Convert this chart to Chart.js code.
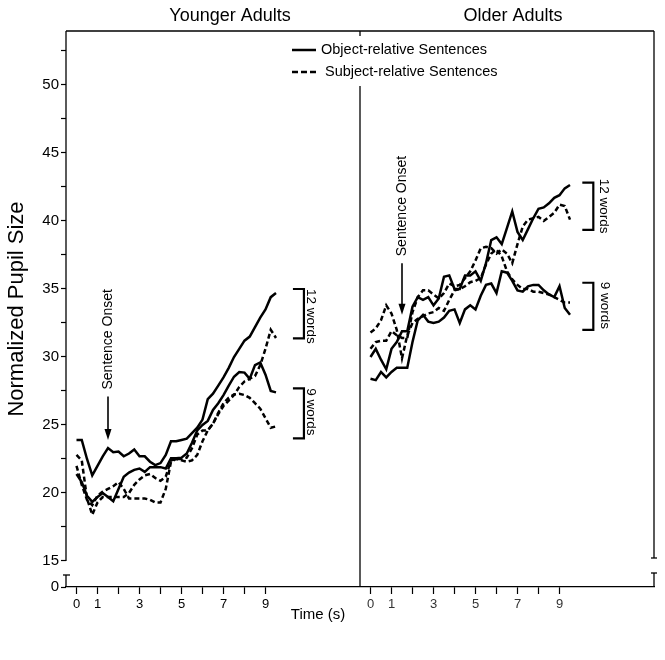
<!DOCTYPE html>
<html><head><meta charset="utf-8">
<script src="https://cdn.jsdelivr.net/npm/chart.js@4.4.1/dist/chart.umd.min.js"></script>
<style>html,body{margin:0;padding:0;background:#fff}canvas{display:block}</style>
</head><body>
<canvas id="c" width="665" height="660"></canvas>
<script>
// ---- data ----
const times = [0,0.25,0.5,0.75,1,1.25,1.5,1.75,2,2.25,2.5,2.75,3,3.25,3.5,3.75,4,4.25,4.5,4.75,5,5.25,5.5,5.75,6,6.25,6.5,6.75,7,7.25,7.5,7.75,8,8.25,8.5,8.75,9,9.25,9.5];

const youngObj12  = [23.9,23.9,22.5,21.3,22.0,22.7,23.3,23.0,23.05,22.7,22.9,23.2,22.7,22.7,22.3,22.05,22.2,22.8,23.8,23.8,23.9,24.0,24.4,24.8,25.4,26.9,27.3,27.9,28.5,29.2,30.0,30.6,31.2,31.5,32.2,32.9,33.5,34.4,34.7];
const youngSubj12 = [22.8,22.4,19.6,18.4,19.3,19.7,19.7,19.7,19.7,19.7,20.0,20.6,21.0,21.3,21.4,21.1,20.9,21.2,22.4,22.5,22.5,22.6,23.3,24.3,24.6,24.6,25.1,25.8,26.4,26.8,27.2,27.8,28.2,28.4,28.6,29.4,30.6,32.0,31.4];
const youngObj9   = [21.4,20.8,19.8,19.35,19.7,20.0,19.7,19.4,20.3,21.2,21.5,21.7,21.8,21.55,21.9,21.9,21.9,21.8,22.55,22.55,22.6,22.9,23.7,24.6,25.0,25.3,26.1,26.6,27.2,27.9,28.55,28.9,28.85,28.4,29.4,29.6,28.7,27.5,27.4];
const youngSubj9  = [22.0,20.6,19.5,19.1,19.8,20.1,20.3,20.5,20.8,20.3,19.6,19.6,19.6,19.6,19.5,19.3,19.3,20.3,22.3,22.5,22.4,22.3,22.4,22.8,23.8,24.6,25.1,25.9,26.6,27.0,27.25,27.3,27.2,27.0,26.6,26.2,25.5,24.8,24.9];

const oldObj12  = [30.0,30.6,29.8,29.1,30.6,31.1,31.9,31.9,33.7,34.4,34.2,34.4,33.8,34.3,35.9,36.0,35.0,35.0,36.0,36.0,36.3,35.6,36.9,38.6,38.8,38.3,39.5,40.7,39.2,38.6,39.4,40.2,40.9,41.0,41.3,41.7,41.9,42.4,42.65];
const oldSubj12 = [30.6,31.1,31.2,31.2,31.9,31.6,31.4,31.4,33.3,34.4,34.9,34.9,34.6,34.3,34.7,35.4,35.2,35.3,35.8,36.3,37.1,38.0,38.1,38.0,37.6,37.9,37.6,36.9,38.3,39.6,40.1,40.2,40.3,40.0,40.3,40.6,41.2,41.1,40.1];
const oldObj9   = [28.4,28.3,28.9,28.5,28.9,29.2,29.2,29.2,31.1,32.7,33.1,32.6,32.5,32.6,32.9,33.4,33.5,32.5,33.5,33.8,33.5,34.5,35.3,35.4,34.7,36.3,36.2,35.6,34.9,34.8,35.2,35.3,35.3,34.9,34.6,34.4,35.2,33.6,33.1];
const oldSubj9  = [31.8,32.1,32.7,33.8,33.2,32.0,29.9,31.6,32.5,32.8,33.0,33.2,33.3,33.6,33.4,34.2,34.9,35.0,35.2,35.5,35.6,35.8,36.8,37.6,37.9,37.4,36.3,35.7,35.3,35.0,35.0,34.8,34.8,34.7,34.6,34.4,34.2,34.0,34.0];

// tick labels
const panelTimeTicks  = [0,1,2,3,4,5,6,7,8,9];
const panelTimeLabels = ['0','1','','3','','5','','7','','9'];
const yTickValues = [15,17.5,20,22.5,25,27.5,30,32.5,35,37.5,40,42.5,45,47.5,50,52.5];
const yTickLabels = ['15','','20','','25','','30','','35','','40','','45','','50',''];
const yBreakLabel = '0';

// ---- layout constants ----
const FONT = "'Liberation Sans', Arial, Helvetica, sans-serif";
const PANEL_OFFSET = 14;          // right panel shifted along the shared time scale
const X_MIN = -0.5, X_MAX = 27.5;
const Y_MIN = 13.088, Y_MAX = 53.97;

const xTicks = panelTimeTicks.concat(panelTimeTicks.map(v => v + PANEL_OFFSET));
const xLabels = panelTimeLabels.concat(panelTimeLabels);
const yTicks = [Y_MIN].concat(yTickValues);
const yLabels = [yBreakLabel].concat(yTickLabels);

function pts(vals, off) { return times.map((t, i) => ({ x: t + off, y: vals[i] })); }
const seriesDefs = [
  { label: 'Younger 12 words object', vals: youngObj12, off: 0, dashed: false },
  { label: 'Younger 12 words subject', vals: youngSubj12, off: 0, dashed: true },
  { label: 'Younger 9 words object', vals: youngObj9, off: 0, dashed: false },
  { label: 'Younger 9 words subject', vals: youngSubj9, off: 0, dashed: true },
  { label: 'Older 12 words object', vals: oldObj12, off: PANEL_OFFSET, dashed: false },
  { label: 'Older 12 words subject', vals: oldSubj12, off: PANEL_OFFSET, dashed: true },
  { label: 'Older 9 words object', vals: oldObj9, off: PANEL_OFFSET, dashed: false },
  { label: 'Older 9 words subject', vals: oldSubj9, off: PANEL_OFFSET, dashed: true }
];
const datasets = seriesDefs.map(s => ({
  label: s.label,
  data: pts(s.vals, s.off),
  borderColor: '#000',
  borderWidth: 2.5,
  borderDash: s.dashed ? [5, 3] : [],
  pointRadius: 0,
  fill: false,
  tension: 0
}));

const decor = {
  id: 'decor',
  afterDraw(chart) {
    const { ctx, chartArea: a, scales: { x, y } } = chart;
    const line = (x1, y1, x2, y2) => { ctx.beginPath(); ctx.moveTo(x1, y1); ctx.lineTo(x2, y2); ctx.stroke(); };
    ctx.save();
    ctx.strokeStyle = '#000'; ctx.fillStyle = '#000';
    ctx.lineWidth = 1.3;
    const y15 = y.getPixelForValue(15);
    // frame
    line(a.left, a.top, a.right, a.top);
    line(a.left, a.top, a.left, y15);
    line(a.left, y15 + 14, a.left, a.bottom);
    line(a.left - 3, y15 + 14, a.left + 4, y15 + 14);
    line(a.right, a.top, a.right, y15 - 3);
    line(a.right - 3, y15 - 3, a.right + 3, y15 - 3);
    line(a.right - 3, y15 + 12, a.right + 3, y15 + 12);
    line(a.right, y15 + 12, a.right, a.bottom);
    // panel divider (interrupted by legend)
    const xd = x.getPixelForValue(PANEL_OFFSET - 0.5);
    line(xd, a.top, xd, 36);
    line(xd, 86, xd, a.bottom);

    // legend
    ctx.lineWidth = 2.5;
    line(292, 50, 316, 50);
    ctx.setLineDash([6, 3]);
    line(292, 72, 316, 72);
    ctx.setLineDash([]);
    ctx.font = '14.5px ' + FONT;
    ctx.textAlign = 'left'; ctx.textBaseline = 'middle';
    ctx.fillText('Object-relative Sentences', 321, 50);
    ctx.fillText('Subject-relative Sentences', 325, 72);

    // panel titles and x title
    ctx.font = '18px ' + FONT;
    ctx.textAlign = 'center';
    ctx.fillText('Younger Adults', 230, 16);
    ctx.fillText('Older Adults', 513, 16);
    ctx.font = '15px ' + FONT;
    ctx.fillText('Time (s)', 318, 615);

    // sentence onset arrows
    function onset(t, vTop, vTip, textCenterV) {
      const px = x.getPixelForValue(t);
      const top = y.getPixelForValue(vTop), tip = y.getPixelForValue(vTip);
      ctx.lineWidth = 1.6;
      line(px, top, px, tip - 8);
      ctx.beginPath(); ctx.moveTo(px, tip); ctx.lineTo(px - 3.5, tip - 11); ctx.lineTo(px + 3.5, tip - 11); ctx.closePath(); ctx.fill();
      ctx.save();
      ctx.translate(px, y.getPixelForValue(textCenterV));
      ctx.rotate(-Math.PI / 2);
      ctx.font = '14px ' + FONT; ctx.textAlign = 'center'; ctx.textBaseline = 'middle';
      ctx.fillText('Sentence Onset', 0, 0);
      ctx.restore();
    }
    onset(1.5, 27.1, 23.9, 31.3);
    onset(PANEL_OFFSET + 1.5, 36.9, 33.1, 41.1);

    // word-count brackets
    function bracket(t, v1, v2, label, dx, dy) {
      const px = x.getPixelForValue(t);
      const p1 = y.getPixelForValue(v1), p2 = y.getPixelForValue(v2);
      ctx.lineWidth = 2.2;
      ctx.beginPath(); ctx.moveTo(px - 11, p1); ctx.lineTo(px, p1); ctx.lineTo(px, p2); ctx.lineTo(px - 11, p2); ctx.stroke();
      ctx.save();
      ctx.translate(px + dx, p1 + dy);
      ctx.rotate(Math.PI / 2);
      ctx.font = '13.5px ' + FONT; ctx.textAlign = 'left'; ctx.textBaseline = 'middle';
      ctx.fillText(label, 0, 0);
      ctx.restore();
    }
    bracket(10.83, 35.0, 31.37, '12 words', 6.5, 0);
    bracket(10.83, 27.7, 24.02, '9 words', 6.5, 0);
    bracket(PANEL_OFFSET + 10.61, 42.82, 39.34, '12 words', 10, -4);
    bracket(PANEL_OFFSET + 10.61, 35.46, 31.99, '9 words', 11, -1);
    ctx.restore();
  }
};

new Chart(document.getElementById('c'), {
  type: 'line',
  data: { datasets },
  plugins: [decor],
  options: {
    responsive: false, animation: false, devicePixelRatio: 1,
    layout: { padding: { top: 31, right: 11, left: 0, bottom: 0 } },
    plugins: { legend: { display: false }, tooltip: { enabled: false }, title: { display: false } },
    scales: {
      x: {
        type: 'linear', min: X_MIN, max: X_MAX,
        afterBuildTicks: s => { s.ticks = xTicks.map(v => ({ value: v })); },
        afterFit: s => { s.height = 73; },
        ticks: {
          autoSkip: false, maxRotation: 0, minRotation: 0, padding: 3,
          font: { family: FONT, size: 13 },
          color: c => (c.tick && c.tick.value >= PANEL_OFFSET) ? '#333' : '#000',
          callback: (v, i) => xLabels[i]
        },
        grid: { drawOnChartArea: false, drawTicks: true, tickLength: 7, tickColor: '#000', tickWidth: 1.2 },
        border: { display: true, color: '#000', width: 1.3 }
      },
      y: {
        type: 'linear', min: Y_MIN, max: Y_MAX,
        afterBuildTicks: s => { s.ticks = yTicks.map(v => ({ value: v })); },
        afterFit: s => { s.width = 66; },
        ticks: { padding: 2, font: { family: FONT, size: 15 }, color: '#000', callback: (v, i) => yLabels[i] },
        grid: { drawOnChartArea: false, drawTicks: true, tickLength: 5, tickColor: '#000', tickWidth: 1.2 },
        border: { display: false },
        title: { display: true, text: 'Normalized Pupil Size', color: '#000', font: { family: FONT, size: 22 }, padding: { top: 4, bottom: 0 } }
      }
    }
  }
});
</script>
</body></html>
